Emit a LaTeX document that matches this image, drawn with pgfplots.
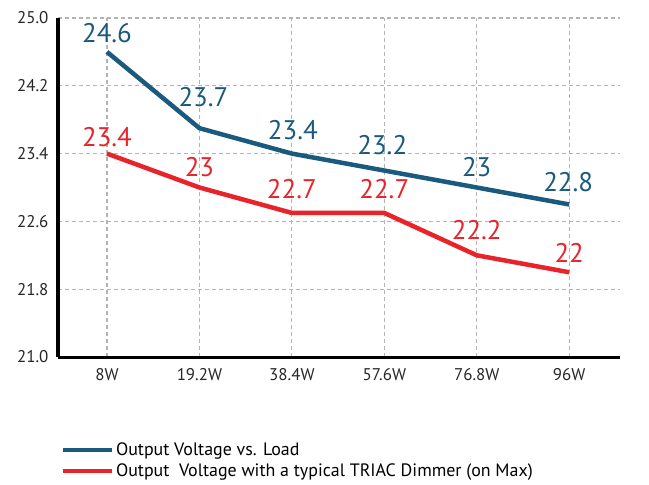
\documentclass[border=0pt]{standalone}
\usepackage{pgfplots}
\pgfplotsset{compat=1.18}
\usepackage{fontspec}
\setmainfont{PT Sans}
\definecolor{cblue}{HTML}{1A5A7E}
\definecolor{cred}{HTML}{E8232A}
\definecolor{cgrid}{HTML}{B4B4B4}
\begin{document}
\begin{tikzpicture}
\begin{axis}[
  name=ax,
  scale only axis,
  width=562bp, height=339bp,
  xmin=-0.53, xmax=5.55,
  ymin=21.0, ymax=25.0,
  ytick={21.0,21.8,22.6,23.4,24.2,25.0},
  yticklabel style={/pgf/number format/fixed,/pgf/number format/fixed zerofill,/pgf/number format/precision=1},
  xtick={0,1,2,3,4,5},
  xticklabels={8W,19.2W,38.4W,57.6W,76.8W,96W},
  /pgf/number format/assume math mode=true,
  axis x line*=bottom, axis y line*=left,
  axis line style={line width=3bp, black, -},
  major tick length=0pt,
  ymajorgrids, xmajorgrids,
  grid style={cgrid, line width=1.1bp, dash pattern=on 4bp off 3bp},
  tick label style={font=\fontsize{17}{17}\selectfont, text=black!85},
  yticklabel style={xshift=-6bp},
  xticklabel style={yshift=-8bp},
  clip=false,
  nodes near coords,
  visualization depends on={value \thisrow{dy} \as \dy},
  visualization depends on={value \thisrow{dx} \as \dx},
  nodes near coords style={font=\fontsize{27}{27}\selectfont, anchor=south, inner sep=0pt, yshift=\dy bp, xshift=\dx bp},
  legend style={at={(0.005,-0.247)}, anchor=north west, draw=none, fill=none,
    font=\fontsize{18}{20}\selectfont, inner sep=0pt, row sep=3bp,
    /tikz/every even column/.append style={column sep=2bp}},
  legend cell align=left,
  legend image code/.code={\draw[#1, line width=4bp] (0,0) -- (49bp,0);},
]
\addplot[cblue, line width=4.5bp, nodes near coords style={text=cblue}] table {
x y dy dx
0 24.6 7 0
1 23.7 19 4
2 23.4 12 1
3 23.2 13 -2
4 23.0 8 0
5 22.8 10 -1
};
\addlegendentry{Output Voltage vs. Load}
\addplot[cred, line width=4.5bp, nodes near coords style={text=cred}] table {
x y dy dx
0 23.4 5 0
1 23.0 8 0
2 22.7 12 0
3 22.7 12 0
4 22.2 13 0
5 22.0 8 0
};
\addlegendentry{Output\ \ Voltage with a typical TRIAC Dimmer (on Max)}
\end{axis}
\path ([xshift=-58bp,yshift=-128bp]ax.south west) rectangle ([xshift=29bp,yshift=18bp]ax.north east);
\end{tikzpicture}
\end{document}
